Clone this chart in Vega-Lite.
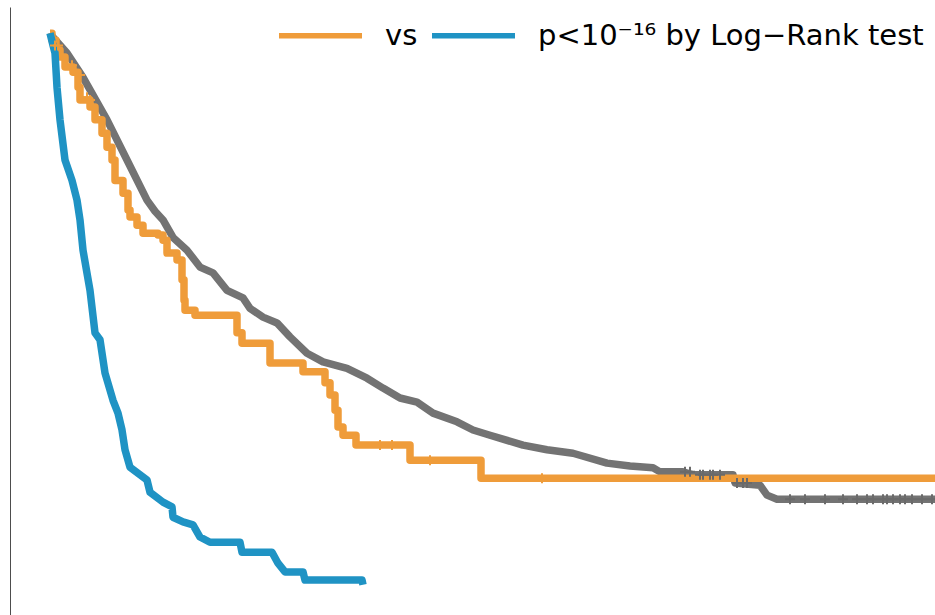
{
  "$schema": "https://vega.github.io/schema/vega-lite/v6.json",
  "width": 925,
  "height": 608,
  "padding": {"left": 10, "top": 7, "right": 0, "bottom": 0},
  "autosize": {"type": "none"},
  "background": "white",
  "config": {
    "view": {"stroke": null},
    "font": "DejaVu Sans"
  },
  "datasets": {
    "curves": [
      {"series": "ref", "t": 0, "s": 1.0},
      {"series": "ref", "t": 0.6, "s": 0.993},
      {"series": "ref", "t": 3.4, "s": 0.966},
      {"series": "ref", "t": 6.6, "s": 0.924},
      {"series": "ref", "t": 11.4, "s": 0.851},
      {"series": "ref", "t": 15.4, "s": 0.782},
      {"series": "ref", "t": 19.4, "s": 0.713},
      {"series": "ref", "t": 21, "s": 0.694},
      {"series": "ref", "t": 22.6, "s": 0.679},
      {"series": "ref", "t": 24.6, "s": 0.649},
      {"series": "ref", "t": 27.4, "s": 0.627},
      {"series": "ref", "t": 30, "s": 0.598},
      {"series": "ref", "t": 32.6, "s": 0.588},
      {"series": "ref", "t": 35.4, "s": 0.558},
      {"series": "ref", "t": 38.6, "s": 0.545},
      {"series": "ref", "t": 40, "s": 0.527},
      {"series": "ref", "t": 42.6, "s": 0.512},
      {"series": "ref", "t": 45.4, "s": 0.502},
      {"series": "ref", "t": 48, "s": 0.478},
      {"series": "ref", "t": 51.4, "s": 0.45},
      {"series": "ref", "t": 54.6, "s": 0.435},
      {"series": "ref", "t": 59.4, "s": 0.424},
      {"series": "ref", "t": 63.4, "s": 0.407},
      {"series": "ref", "t": 66.6, "s": 0.39},
      {"series": "ref", "t": 70, "s": 0.373},
      {"series": "ref", "t": 73.4, "s": 0.366},
      {"series": "ref", "t": 76.6, "s": 0.347},
      {"series": "ref", "t": 81.4, "s": 0.332},
      {"series": "ref", "t": 84.6, "s": 0.318},
      {"series": "ref", "t": 88, "s": 0.309},
      {"series": "ref", "t": 94.6, "s": 0.292},
      {"series": "ref", "t": 99.4, "s": 0.284},
      {"series": "ref", "t": 104.6, "s": 0.278},
      {"series": "ref", "t": 111.4, "s": 0.261},
      {"series": "ref", "t": 116, "s": 0.256},
      {"series": "ref", "t": 120.6, "s": 0.253},
      {"series": "ref", "t": 122, "s": 0.246},
      {"series": "ref", "t": 126.6, "s": 0.246},
      {"series": "ref", "t": 128.6, "s": 0.241},
      {"series": "ref", "t": 136.6, "s": 0.241},
      {"series": "ref", "t": 137, "s": 0.227},
      {"series": "ref", "t": 142, "s": 0.223},
      {"series": "ref", "t": 143.4, "s": 0.206},
      {"series": "ref", "t": 145.4, "s": 0.199},
      {"series": "ref", "t": 177, "s": 0.199},

      {"series": "g1", "t": 0, "s": 1.0},
      {"series": "g1", "t": 0.4, "s": 0.988},
      {"series": "g1", "t": 1.2, "s": 0.971},
      {"series": "g1", "t": 2, "s": 0.959},
      {"series": "g1", "t": 3, "s": 0.942},
      {"series": "g1", "t": 4.6, "s": 0.933},
      {"series": "g1", "t": 5.6, "s": 0.907},
      {"series": "g1", "t": 6, "s": 0.885},
      {"series": "g1", "t": 8, "s": 0.873},
      {"series": "g1", "t": 9, "s": 0.851},
      {"series": "g1", "t": 10.4, "s": 0.828},
      {"series": "g1", "t": 11.4, "s": 0.804},
      {"series": "g1", "t": 12.4, "s": 0.782},
      {"series": "g1", "t": 13, "s": 0.747},
      {"series": "g1", "t": 14.6, "s": 0.725},
      {"series": "g1", "t": 15.6, "s": 0.696},
      {"series": "g1", "t": 16, "s": 0.684},
      {"series": "g1", "t": 17.4, "s": 0.67},
      {"series": "g1", "t": 18.6, "s": 0.656},
      {"series": "g1", "t": 21.6, "s": 0.653},
      {"series": "g1", "t": 22.6, "s": 0.644},
      {"series": "g1", "t": 23.4, "s": 0.622},
      {"series": "g1", "t": 25.4, "s": 0.61},
      {"series": "g1", "t": 26.4, "s": 0.576},
      {"series": "g1", "t": 26.8, "s": 0.541},
      {"series": "g1", "t": 27, "s": 0.524},
      {"series": "g1", "t": 29, "s": 0.515},
      {"series": "g1", "t": 37.4, "s": 0.485},
      {"series": "g1", "t": 38.4, "s": 0.467},
      {"series": "g1", "t": 44, "s": 0.433},
      {"series": "g1", "t": 50.6, "s": 0.418},
      {"series": "g1", "t": 55, "s": 0.399},
      {"series": "g1", "t": 56, "s": 0.378},
      {"series": "g1", "t": 57, "s": 0.352},
      {"series": "g1", "t": 57.6, "s": 0.323},
      {"series": "g1", "t": 58.6, "s": 0.309},
      {"series": "g1", "t": 61.2, "s": 0.292},
      {"series": "g1", "t": 72, "s": 0.266},
      {"series": "g1", "t": 86.2, "s": 0.235},
      {"series": "g1", "t": 177, "s": 0.235},

      {"series": "g2", "t": 0, "s": 1.0},
      {"series": "g2", "t": 0.6, "s": 0.979},
      {"series": "g2", "t": 1, "s": 0.966},
      {"series": "g2", "t": 1.4, "s": 0.907},
      {"series": "g2", "t": 2, "s": 0.851},
      {"series": "g2", "t": 3, "s": 0.782},
      {"series": "g2", "t": 4.4, "s": 0.747},
      {"series": "g2", "t": 5.4, "s": 0.713},
      {"series": "g2", "t": 6, "s": 0.679},
      {"series": "g2", "t": 6.6, "s": 0.627},
      {"series": "g2", "t": 8, "s": 0.558},
      {"series": "g2", "t": 9, "s": 0.485},
      {"series": "g2", "t": 10, "s": 0.473},
      {"series": "g2", "t": 11, "s": 0.416},
      {"series": "g2", "t": 12.6, "s": 0.369},
      {"series": "g2", "t": 13.6, "s": 0.347},
      {"series": "g2", "t": 14.4, "s": 0.318},
      {"series": "g2", "t": 15, "s": 0.284},
      {"series": "g2", "t": 16, "s": 0.254},
      {"series": "g2", "t": 18, "s": 0.241},
      {"series": "g2", "t": 19.4, "s": 0.232},
      {"series": "g2", "t": 20, "s": 0.211},
      {"series": "g2", "t": 22.6, "s": 0.194},
      {"series": "g2", "t": 24.4, "s": 0.186},
      {"series": "g2", "t": 24.6, "s": 0.168},
      {"series": "g2", "t": 26.6, "s": 0.16},
      {"series": "g2", "t": 28.6, "s": 0.155},
      {"series": "g2", "t": 30, "s": 0.134},
      {"series": "g2", "t": 32, "s": 0.125},
      {"series": "g2", "t": 38, "s": 0.125},
      {"series": "g2", "t": 38.4, "s": 0.108},
      {"series": "g2", "t": 44.4, "s": 0.108},
      {"series": "g2", "t": 45.6, "s": 0.089},
      {"series": "g2", "t": 47, "s": 0.074},
      {"series": "g2", "t": 50.6, "s": 0.074},
      {"series": "g2", "t": 51, "s": 0.06},
      {"series": "g2", "t": 62.4, "s": 0.06},
      {"series": "g2", "t": 62.6, "s": 0.052}
    ],
    "censored": [
      {"series": "g1", "t": 1, "s": 0.979},
      {"series": "g1", "t": 1.6, "s": 0.979},
      {"series": "g1", "t": 4.4, "s": 0.945},
      {"series": "g1", "t": 5, "s": 0.936},
      {"series": "g1", "t": 6, "s": 0.928},
      {"series": "g1", "t": 7.4, "s": 0.89},
      {"series": "g1", "t": 8, "s": 0.885},
      {"series": "g1", "t": 66, "s": 0.292},
      {"series": "g1", "t": 68.4, "s": 0.292},
      {"series": "g1", "t": 76, "s": 0.266},
      {"series": "g1", "t": 98.4, "s": 0.235},
      {"series": "ref", "t": 127, "s": 0.246},
      {"series": "ref", "t": 128, "s": 0.246},
      {"series": "ref", "t": 130, "s": 0.241},
      {"series": "ref", "t": 130.6, "s": 0.241},
      {"series": "ref", "t": 132, "s": 0.241},
      {"series": "ref", "t": 132.6, "s": 0.241},
      {"series": "ref", "t": 134, "s": 0.241},
      {"series": "ref", "t": 137.4, "s": 0.227},
      {"series": "ref", "t": 138.6, "s": 0.227},
      {"series": "ref", "t": 139.4, "s": 0.227},
      {"series": "ref", "t": 148, "s": 0.199},
      {"series": "ref", "t": 151, "s": 0.199},
      {"series": "ref", "t": 155, "s": 0.199},
      {"series": "ref", "t": 158.6, "s": 0.199},
      {"series": "ref", "t": 161.4, "s": 0.199},
      {"series": "ref", "t": 163.4, "s": 0.199},
      {"series": "ref", "t": 164.6, "s": 0.199},
      {"series": "ref", "t": 166.6, "s": 0.199},
      {"series": "ref", "t": 167.4, "s": 0.199},
      {"series": "ref", "t": 168.6, "s": 0.199},
      {"series": "ref", "t": 170, "s": 0.199},
      {"series": "ref", "t": 171, "s": 0.199},
      {"series": "ref", "t": 172.4, "s": 0.199},
      {"series": "ref", "t": 174.4, "s": 0.199},
      {"series": "ref", "t": 176.4, "s": 0.199}
    ]
  },
  "data": {"name": "curves"},
  "layer": [
    {
      "transform": [{"filter": "datum.series == 'ref'"}],
      "mark": {"type": "line", "strokeWidth": 7.5, "strokeJoin": "round", "clip": true},
      "encoding": {
        "x": {"field": "t", "type": "quantitative", "scale": {"domain": [-8, 177], "nice": false, "zero": false}, "axis": null},
        "y": {"field": "s", "type": "quantitative", "scale": {"domain": [0, 1.045], "nice": false},
              "axis": {"title": null, "labels": false, "ticks": false, "grid": false, "domainColor": "#4d4d4d", "domainWidth": 1}},
        "color": {
          "field": "series", "type": "nominal",
          "scale": {"domain": ["g1", "g2", "ref"], "range": ["#EF9C3A", "#1F93C4", "#737373"]},
          "legend": {
            "orient": "none", "legendX": 266, "legendY": -16, "direction": "horizontal",
            "title": null, "values": ["g1", "g2"],
            "labelExpr": "datum.value == 'g1' ? 'vs' : 'p<10⁻¹⁶ by Log−Rank test'",
            "symbolType": "stroke", "symbolSize": 6889, "symbolStrokeWidth": 5.5,
            "labelFont": "DejaVu Sans", "labelFontSize": 29, "labelColor": "black",
            "labelOffset": 20, "columnPadding": 3, "padding": 0, "labelLimit": 1000
          }
        }
      }
    },
    {
      "transform": [{"filter": "datum.series == 'g1'"}],
      "mark": {"type": "line", "interpolate": "step-after", "strokeWidth": 7.5, "strokeJoin": "round", "clip": true},
      "encoding": {
        "x": {"field": "t", "type": "quantitative"},
        "y": {"field": "s", "type": "quantitative"},
        "color": {"field": "series", "type": "nominal"}
      }
    },
    {
      "transform": [{"filter": "datum.series == 'g2'"}],
      "mark": {"type": "line", "strokeWidth": 7.5, "strokeJoin": "round", "clip": true},
      "encoding": {
        "x": {"field": "t", "type": "quantitative"},
        "y": {"field": "s", "type": "quantitative"},
        "color": {"field": "series", "type": "nominal"}
      }
    },
    {
      "data": {"name": "censored"},
      "mark": {"type": "point", "shape": "M-1,0H1M0,-1V1", "filled": false, "size": 100, "strokeWidth": 2, "opacity": 1},
      "encoding": {
        "x": {"field": "t", "type": "quantitative"},
        "y": {"field": "s", "type": "quantitative"},
        "stroke": {
          "field": "series", "type": "nominal",
          "scale": {"domain": ["g1", "g2", "ref"], "range": ["#EF9C3A", "#1F93C4", "#6a6a6a"]},
          "legend": null
        }
      }
    }
  ]
}
